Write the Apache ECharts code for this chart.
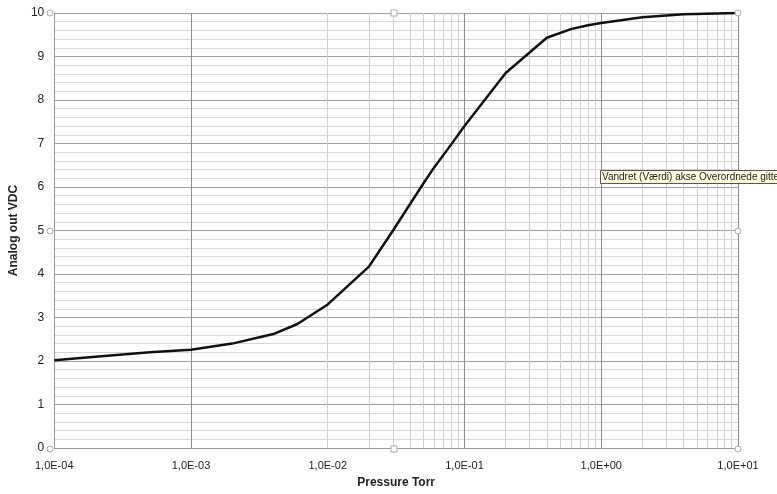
<!DOCTYPE html>
<html><head><meta charset="utf-8">
<script src="https://cdn.jsdelivr.net/npm/echarts@6/dist/echarts.min.js"></script>
<style>html,body{margin:0;padding:0;background:#fff}#c{width:777px;height:494px}</style>
</head><body><div id="c"></div>
<script>
const pressure = [1e-4, 2e-4, 5e-4, 1e-3, 2e-3, 4e-3, 6e-3, 1e-2, 2e-2, 3e-2, 5e-2, 6e-2, 8e-2, 1e-1, 2e-1, 4e-1, 6e-1, 8e-1, 1, 2, 4, 10];
const vdc = [2.02, 2.1, 2.2, 2.26, 2.4, 2.62, 2.85, 3.3, 4.17, 5.0, 6.08, 6.45, 6.98, 7.4, 8.62, 9.43, 9.63, 9.72, 9.77, 9.9, 9.97, 10.0];
const xTickLabels = ['1,0E-04', '1,0E-03', '1,0E-02', '1,0E-01', '1,0E+00', '1,0E+01'];
const yTicks = [0,1,2,3,4,5,6,7,8,9,10];
const xTitle = 'Pressure Torr';
const yTitle = 'Analog out VDC';
const tipText = 'Vandret (Værdi) akse Overordnede gitter';

const minorX = [];
for (let e = -4; e < 1; e++) for (let m = 2; m <= 9; m++) minorX.push(m * Math.pow(10, e));

const chart = echarts.init(document.getElementById('c'), null, {renderer: 'canvas'});
const font = 'Liberation Sans, Arial, sans-serif';
chart.setOption({
  animation: false,
  grid: {left: 50, right: 39, top: 13, bottom: 45},
  xAxis: {
    type: 'log', logBase: 10, min: 1e-4, max: 10,
    name: xTitle, nameLocation: 'middle', nameGap: 29,
    nameTextStyle: {fontFamily: font, fontWeight: 'bold', fontSize: 12, color: '#222'},
    axisLine: {show: true, lineStyle: {color: '#999', width: 1}},
    axisTick: {show: false},
    axisLabel: {fontFamily: font, fontSize: 11, color: '#222', margin: 12,
      formatter: v => xTickLabels[Math.round(Math.log10(v)) + 4]},
    splitLine: {show: true, lineStyle: {color: '#8c8c8c', width: 1}}
  },
  yAxis: {
    type: 'value', min: 0, max: 10, interval: 1,
    name: yTitle, nameLocation: 'middle', nameGap: 30, nameRotate: 90,
    nameTextStyle: {fontFamily: font, fontWeight: 'bold', fontSize: 12, color: '#222'},
    axisLine: {show: true, lineStyle: {color: '#999', width: 1}},
    axisTick: {show: false},
    axisLabel: {fontFamily: font, fontSize: 12, color: '#222', margin: 10,
      formatter: v => String(yTicks[Math.round(v)])},
    splitLine: {show: true, lineStyle: {color: '#a0a0a0', width: 1}},
    minorTick: {show: false, splitNumber: 5},
    minorSplitLine: {show: true, lineStyle: {color: '#d6d6d6', width: 1}}
  },
  series: [
    {
      type: 'line', data: pressure.map((p, i) => [p, vdc[i]]),
      symbol: 'none', silent: true, z: 1,
      lineStyle: {opacity: 0},
      markLine: {
        silent: true, symbol: ['none', 'none'], label: {show: false},
        lineStyle: {color: '#cfcfcf', width: 1, type: 'solid'},
        data: minorX.map(v => ({xAxis: v}))
      }
    },
    {
      type: 'line', data: pressure.map((p, i) => [p, vdc[i]]),
      symbol: 'none', smooth: false, z: 5,
      lineStyle: {color: '#111', width: 2.5}
    }
  ],
  graphic: [
    {type: 'rect', shape: {x: 600.5, y: 170.5, width: 185, height: 13}, style: {fill: '#ffffe1', stroke: '#555', lineWidth: 1}, z: 100},
    {type: 'text', x: 602, y: 172, style: {text: tipText, font: '10px ' + font, fill: '#222'}, z: 101},
    ...[[50,13],[738,13],[50,449],[738,449],[50,231],[738,231]].map(p => ({type: 'circle', shape: {cx: p[0], cy: p[1], r: 3}, style: {fill: '#fff', stroke: '#aaa', lineWidth: 1}, z: 90})),
    ...[[394,13],[394,449]].map(p => ({type: 'rect', shape: {x: p[0]-3, y: p[1]-3, width: 6, height: 6}, style: {fill: '#fff', stroke: '#aaa', lineWidth: 1}, z: 90}))
  ]
});
</script></body></html>
